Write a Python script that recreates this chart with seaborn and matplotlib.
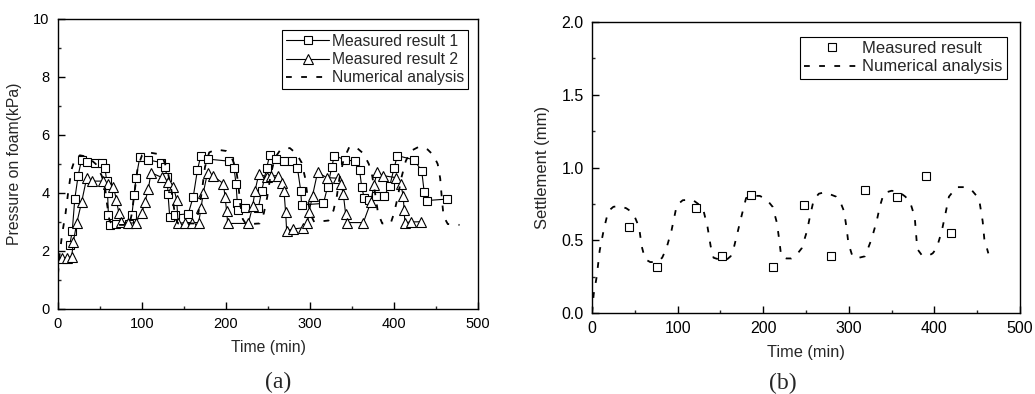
import matplotlib
matplotlib.use("Agg")
import matplotlib.pyplot as plt
import seaborn as sns
from matplotlib.ticker import MultipleLocator

# ---------------- (a) pressure on foam ----------------
t_meas1 = [14, 17, 20, 24, 28, 35, 44, 52, 56, 58, 59, 60, 62, 69, 84, 88, 90.5, 93, 97.5,
           107, 123, 127, 130, 131, 133, 139, 155, 161, 166, 170, 178, 203, 209.5, 212,
           213.5, 214.7, 222.6, 238.5, 242.5, 248.4, 252, 260, 269, 279, 285, 289, 290,
           316, 321, 326, 329, 342, 354, 359, 361.5, 364.5, 370, 378, 388.5, 395, 400,
           404, 424, 433, 436, 439, 463]
p_meas1 = [2.2, 2.7, 3.8, 4.6, 5.15, 5.08, 5.05, 5.05, 4.85, 4.4, 4.0, 3.24, 2.9, 2.92, 2.92,
           3.24, 3.93, 4.53, 5.25, 5.14, 5.05, 4.91, 4.56, 3.95, 3.18, 3.24, 3.28, 3.87,
           4.79, 5.29, 5.17, 5.1, 4.87, 4.3, 3.64, 3.41, 3.49, 3.49, 4.07, 4.87, 5.3, 5.17,
           5.1, 5.1, 4.87, 4.07, 3.59, 3.64, 4.22, 4.91, 5.29, 5.14, 5.1, 4.79, 4.22, 3.82,
           3.76, 3.9, 3.91, 4.25, 4.85, 5.29, 5.14, 4.76, 4.02, 3.74, 3.79]

t_meas2 = [4.4, 10.3, 16.3, 18.3, 22.2, 28.2, 34.1, 40.1, 54, 59, 66, 69.5, 72.5, 74.5, 83,
           92.5, 99.6, 103.6, 107.5, 110.7, 123.4, 131.3, 137.3, 141.3, 143, 151, 159,
           167.5, 170.2, 173, 178, 184, 197, 198.8, 200.8, 202, 226.6, 231.8, 234.5, 239,
           248.4, 254, 262.3, 266.3, 269, 271, 272.2, 280, 292, 297, 299, 303, 309, 320,
           333, 337, 339.7, 342.5, 343.7, 363.5, 372.6, 376, 380, 386.5, 402.4, 408, 411,
           412, 413, 420, 432]
p_meas2 = [1.77, 1.77, 1.8, 2.32, 2.95, 3.7, 4.51, 4.41, 4.41, 4.3, 4.22, 3.76, 3.3, 3.0,
           2.95, 2.98, 3.3, 3.7, 4.13, 4.7, 4.54, 4.39, 4.22, 3.76, 2.95, 2.98, 2.98, 2.98,
           3.47, 4.01, 4.7, 4.6, 4.32, 3.87, 3.37, 2.95, 2.95, 3.55, 4.07, 4.65, 4.56, 4.59,
           4.6, 4.33, 4.07, 3.33, 2.7, 2.76, 2.8, 2.95, 3.36, 3.91, 4.71, 4.53, 4.51, 4.3,
           3.95, 3.26, 2.98, 2.98, 3.7, 4.28, 4.71, 4.6, 4.53, 4.3, 3.9, 3.41, 2.98, 3.0, 3.01]

t_num_a = [0, 2, 5, 9, 12, 16, 20, 26, 35, 45, 52, 56, 58, 61, 64, 85, 88, 91, 95, 100, 108,
           118, 125, 130, 134, 137, 140, 143, 162, 167, 171, 175, 180, 188, 200, 207, 212,
           215, 217, 220, 224, 240, 245, 249, 253, 258, 265, 276, 284, 290, 294, 297, 300,
           305, 322, 328, 332, 335, 340, 347, 356, 364, 370, 374, 378, 381, 386, 396, 400,
           404, 409, 414, 420, 430, 440, 447, 452, 455, 457, 459, 464, 478]
p_num_a = [1.2, 1.9, 2.6, 3.3, 4.0, 4.8, 5.15, 5.3, 5.25, 5.0, 4.6, 4.2, 3.7, 3.1, 2.9, 2.9,
           3.3, 4.0, 4.9, 5.3, 5.4, 5.35, 5.2, 4.8, 4.3, 3.7, 3.1, 2.95, 2.95, 3.3, 4.0, 4.9,
           5.4, 5.5, 5.45, 5.2, 4.85, 4.2, 3.6, 3.1, 2.92, 2.95, 3.3, 3.85, 4.6, 5.2, 5.5,
           5.55, 5.35, 5.05, 4.55, 3.9, 3.3, 3.0, 3.05, 3.4, 3.9, 4.5, 5.15, 5.6, 5.55, 5.35,
           5.0, 4.6, 3.9, 3.3, 2.95, 2.95, 3.3, 3.8, 4.55, 5.1, 5.45, 5.6, 5.5, 5.3, 5.0,
           4.5, 3.8, 3.2, 2.93, 2.9]

# ---------------- (b) settlement ----------------
t_meas_b = [43.6, 75.6, 121.5, 151.5, 185.7, 211, 247.5, 278.8, 319.3, 356.7, 390.2, 419]
s_meas_b = [0.589, 0.318, 0.724, 0.392, 0.811, 0.314, 0.742, 0.394, 0.845, 0.795, 0.944, 0.548]

t_num_b = [0, 2, 5.5, 9, 14, 19, 25, 32, 40, 45, 50, 55, 58, 62, 68, 76, 82, 87, 93, 99, 106,
           117, 124, 130, 135, 138.6, 142, 150, 157, 162, 166, 175, 180, 188, 196, 204, 211,
           216, 219, 221, 227, 233, 239, 245, 251, 255, 259, 265, 272, 285, 291, 294.4,
           297.5, 299.5, 304.5, 312, 319, 326.7, 332.5, 336.4, 341, 350, 358, 366, 371.5,
           377, 378.5, 380, 385, 392, 398, 402.6, 408.5, 413, 417, 426, 435, 443.5, 450,
           453, 456.4, 458.3, 463]
s_num_b = [0.0, 0.13, 0.25, 0.43, 0.58, 0.70, 0.73, 0.735, 0.72, 0.70, 0.66, 0.59, 0.46,
           0.37, 0.35, 0.35, 0.38, 0.445, 0.57, 0.74, 0.775, 0.78, 0.75, 0.71, 0.59, 0.46,
           0.38, 0.365, 0.365, 0.39, 0.456, 0.674, 0.79, 0.805, 0.805, 0.78, 0.73, 0.62,
           0.49, 0.39, 0.375, 0.375, 0.40, 0.445, 0.56, 0.674, 0.777, 0.82, 0.83, 0.80, 0.75,
           0.70, 0.58, 0.48, 0.385, 0.38, 0.39, 0.51, 0.63, 0.735, 0.825, 0.84, 0.835, 0.80,
           0.765, 0.66, 0.55, 0.44, 0.40, 0.39, 0.41, 0.445, 0.56, 0.685, 0.80, 0.865, 0.865,
           0.845, 0.80, 0.754, 0.63, 0.51, 0.41]

x_ticks = [0, 100, 200, 300, 400, 500]
y_ticks_a = [0, 2, 4, 6, 8, 10]
y_ticks_b = [0.0, 0.5, 1.0, 1.5, 2.0]

sns.set_theme(style="ticks")
plt.rcParams['font.family'] = ['Liberation Sans', 'DejaVu Sans']
plt.rcParams['axes.linewidth'] = 1.0
plt.rcParams['xtick.direction'] = 'in'
plt.rcParams['ytick.direction'] = 'in'

W, H = 1035, 394
fig = plt.figure(figsize=(W / 100, H / 100), dpi=100)
ax1 = fig.add_axes([58 / W, 1 - 309 / H, 420 / W, 290 / H])
ax2 = fig.add_axes([592 / W, 1 - 313 / H, 428 / W, 291 / H])

dash = (0, (3.2, 5.2))

sns.lineplot(x=t_meas1, y=p_meas1, ax=ax1, color='black', linewidth=0.8, marker='s',
             markersize=5.5, markerfacecolor='white', markeredgecolor='black',
             markeredgewidth=0.8, sort=False, estimator=None, label='Measured result 1')
sns.lineplot(x=t_meas2, y=p_meas2, ax=ax1, color='black', linewidth=0.8, marker='^',
             markersize=6.5, markerfacecolor='white', markeredgecolor='black',
             markeredgewidth=0.8, sort=False, estimator=None, label='Measured result 2')
sns.lineplot(x=t_num_a, y=p_num_a, ax=ax1, color='black', linewidth=1.3, linestyle=dash,
             sort=False, estimator=None, label='Numerical analysis')

sns.lineplot(x=t_meas_b, y=s_meas_b, ax=ax2, color='black', linestyle='none', marker='s',
             markersize=5.5, markerfacecolor='white', markeredgecolor='black',
             markeredgewidth=0.8, sort=False, estimator=None, label='Measured result')
sns.lineplot(x=t_num_b, y=s_num_b, ax=ax2, color='black', linewidth=1.3, linestyle=dash,
             sort=False, estimator=None, label='Numerical analysis')

for ax, yt, ymax, yminor, fs in [(ax1, y_ticks_a, 10, 1, 10.5), (ax2, y_ticks_b, 2.0, 0.25, 11.5)]:
    ax.set_xlim(0, 500)
    ax.set_ylim(0, ymax)
    ax.set_xticks(x_ticks)
    ax.set_yticks(yt)
    ax.xaxis.set_minor_locator(MultipleLocator(50))
    ax.yaxis.set_minor_locator(MultipleLocator(yminor))
    ax.tick_params(which='major', length=5, width=1.0, labelsize=fs, pad=6,
                   top=False, right=False, colors='black')
    ax.tick_params(which='minor', length=2.5, width=1.0, top=False, right=False)
    for sp in ax.spines.values():
        sp.set_visible(True)
        sp.set_color('black')
        sp.set_linewidth(1.0)
    ax.set_facecolor('white')

ax2.yaxis.set_major_formatter(matplotlib.ticker.FormatStrFormatter('%.1f'))

ax1.set_xlabel('Time (min)', fontsize=11.3, labelpad=6)
ax1.set_ylabel('Pressure on foam(kPa)', fontsize=11.3, labelpad=8)
ax2.set_xlabel('Time (min)', fontsize=11.8, labelpad=6)
ax2.set_ylabel('Settlement (mm)', fontsize=12, labelpad=8)

leg1 = ax1.legend(loc='upper right', bbox_to_anchor=((468 - 58) / 420, (309 - 30) / 290),
                  borderaxespad=0, fancybox=False, framealpha=1, edgecolor='black',
                  fontsize=11.3, handlelength=2.7, handletextpad=0.2, borderpad=0.25,
                  labelspacing=0.2)
leg1.get_frame().set_linewidth(0.8)
leg2 = ax2.legend(loc='upper right', bbox_to_anchor=((1007 - 592) / 428, (313 - 37) / 291),
                  borderaxespad=0, fancybox=False, framealpha=1, edgecolor='black',
                  fontsize=12, handlelength=3.3, handletextpad=0.2, borderpad=0.25,
                  labelspacing=0.2)
leg2.get_frame().set_linewidth(0.8)

fig.text(278 / W, 1 - 382 / H, '(a)', ha='center', va='center',
         family=['Liberation Serif', 'DejaVu Serif'], fontsize=17)
fig.text(783 / W, 1 - 383 / H, '(b)', ha='center', va='center',
         family=['Liberation Serif', 'DejaVu Serif'], fontsize=17)

fig.savefig('out.png', dpi=100, facecolor='white')
